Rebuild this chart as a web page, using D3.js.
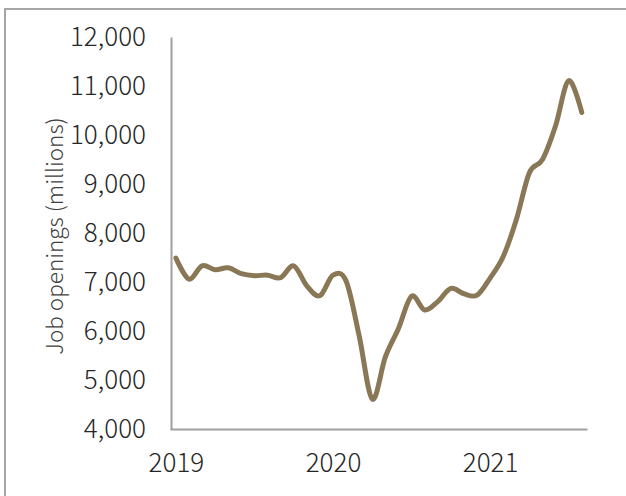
<!DOCTYPE html>
<html>
<head>
<meta charset="utf-8">
<script src="https://cdn.jsdelivr.net/npm/d3@7"></script>
<style>
  body { margin: 0; background: #fff; }
  svg { display: block; }
  .axis text { font-family: "Noto Sans CJK JP", "Noto Sans", sans-serif; font-weight: 300; fill: #262626; }
  .axisTitle { font-family: "Noto Sans CJK JP", "Noto Sans", sans-serif; font-weight: 300; fill: #404040; }
</style>
</head>
<body>
<script>
(function(){

    //monthly job openings, Jan 2019 - Aug 2021
    var months = ["2019-01","2019-02","2019-03","2019-04","2019-05","2019-06","2019-07","2019-08","2019-09","2019-10","2019-11","2019-12",
                  "2020-01","2020-02","2020-03","2020-04","2020-05","2020-06","2020-07","2020-08","2020-09","2020-10","2020-11","2020-12",
                  "2021-01","2021-02","2021-03","2021-04","2021-05","2021-06","2021-07","2021-08"];
    var openings = [7490, 7060, 7330, 7250, 7290, 7170, 7130, 7140, 7090, 7330, 6920, 6720,
                    7140, 7020, 5900, 4610, 5470, 6050, 6710, 6430, 6600, 6870, 6760, 6730,
                    7080, 7520, 8270, 9230, 9500, 10190, 11110, 10460];
    var yearTicks = [0, 12, 24];
    var yearLabels = ["2019", "2020", "2021"];
    var yTicks = [4000, 5000, 6000, 7000, 8000, 9000, 10000, 11000, 12000];

    window.onload = setChart();

    function setChart(){
        var width = 626, height = 496;

        var svg = d3.select("body")
            .append("svg")
            .attr("width", width)
            .attr("height", height);

        //outer frame (runs off the right and bottom edges)
        svg.append("rect")
            .attr("x", 5)
            .attr("y", 9)
            .attr("width", 660)
            .attr("height", 520)
            .attr("fill", "none")
            .attr("stroke", "#a6a6a6")
            .attr("stroke-width", 2);

        var xScale = d3.scaleLinear()
            .domain([-0.45, 31.4])
            .range([170, 587]);

        var yScale = d3.scaleLinear()
            .domain([4000, 12000])
            .range([429, 37]);

        //y axis
        var yAxis = d3.axisLeft(yScale)
            .tickValues(yTicks)
            .tickSize(0)
            .tickPadding(25)
            .tickFormat(d3.format(","));

        var gy = svg.append("g")
            .attr("class", "axis")
            .attr("transform", "translate(171,0)")
            .call(yAxis);
        gy.select(".domain").attr("stroke", "#a0a0a0").attr("stroke-width", 2);
        gy.selectAll("text").style("font-size", "26px");

        //x axis
        var xAxis = d3.axisBottom(xScale)
            .tickValues(yearTicks)
            .tickSize(0)
            .tickFormat(function(d, i){ return yearLabels[i]; });

        var gx = svg.append("g")
            .attr("class", "axis")
            .attr("transform", "translate(0,429)")
            .call(xAxis);
        gx.select(".domain").attr("stroke", "#a0a0a0").attr("stroke-width", 2);
        gx.selectAll("text")
            .style("font-size", "26px")
            .attr("y", 43)
            .attr("dy", 0);

        //axis title
        svg.append("text")
            .attr("class", "axisTitle")
            .attr("transform", "translate(63,236) rotate(-90)")
            .attr("text-anchor", "middle")
            .style("font-size", "22.5px")
            .text("Job openings (millions)");

        //line
        var line = d3.line()
            .x(function(d, i){ return xScale(i); })
            .y(function(d){ return yScale(d); })
            .curve(d3.curveCatmullRom.alpha(0));

        svg.append("path")
            .datum(openings)
            .attr("d", line)
            .attr("fill", "none")
            .attr("stroke", "#8a7756")
            .attr("stroke-width", 5)
            .attr("stroke-linecap", "round")
            .attr("stroke-linejoin", "round");
    };

})();
</script>
</body>
</html>
